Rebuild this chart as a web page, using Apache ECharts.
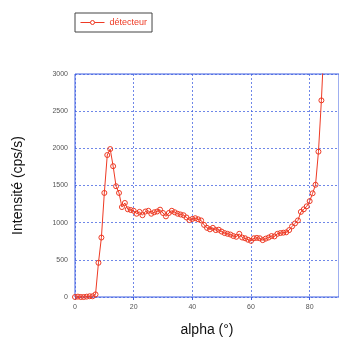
<!DOCTYPE html>
<html>
<head>
<meta charset="utf-8">
<script src="https://cdn.jsdelivr.net/npm/echarts@6/dist/echarts.min.js"></script>
<style>
html,body{margin:0;padding:0;background:#fff;}
#c{width:339px;height:342px;}
</style>
</head>
<body>
<div id="c"></div>
<script>
var seriesName = 'détecteur';
var alpha = [0,1,2,3,4,5,6,7,8,9,10,11,12,13,14,15,16,17,18,19,20,21,22,23,24,25,26,27,28,29,30,31,32,33,34,35,36,37,38,39,40,41,42,43,44,45,46,47,48,49,50,51,52,53,54,55,56,57,58,59,60,61,62,63,64,65,66,67,68,69,70,71,72,73,74,75,76,77,78,79,80,81,82,83,84,85];
var intensite = [0,5,0,0,5,10,10,35,460,800,1400,1910,1990,1760,1490,1400,1210,1265,1180,1170,1160,1120,1145,1100,1150,1160,1120,1140,1150,1175,1130,1085,1130,1160,1140,1120,1110,1100,1070,1035,1050,1060,1045,1030,970,930,910,930,900,905,880,860,850,840,820,810,850,800,790,770,755,790,795,790,765,785,800,820,815,850,860,865,870,900,950,990,1030,1145,1180,1220,1290,1395,1510,1955,2645,3500];
var xTicks = [0,20,40,60,80];
var yTicks = [0,500,1000,1500,2000,2500,3000];

var chart = echarts.init(document.getElementById('c'), null, {renderer:'canvas'});
var blue = '#3f5fe0';
var red = '#ee3a24';
chart.setOption({
  animation:false,
  backgroundColor:'#fff',
  legend:{
    left:75, top:13,
    padding:[5,5,5,5],
    itemWidth:24, itemHeight:5, itemGap:5,
    borderColor:'#444', borderWidth:1,
    textStyle:{color:red, fontSize:9, fontFamily:'Liberation Sans, Arial, sans-serif'},
    data:[{name:seriesName,
      itemStyle:{color:'#fff', borderColor:red, borderWidth:1},
      lineStyle:{color:red, width:1}}]
  },
  grid:{left:75, right:-1, top:74, bottom:40, show:true, borderColor:blue, borderWidth:1, containLabel:false},
  xAxis:{
    type:'value', min:0, max:90, interval:20,
    name:'alpha (°)', nameLocation:'middle', nameGap:26,
    nameTextStyle:{fontSize:14, color:'#111', fontFamily:'Liberation Sans, Arial, sans-serif'},
    axisLine:{show:false},
    axisTick:{show:true, length:3, lineStyle:{color:blue}},
    axisLabel:{fontSize:7, color:'#555', margin:7, showMaxLabel:false,
      formatter:function(v){return xTicks.indexOf(v)>=0 ? String(v) : '';}},
    splitLine:{show:true, lineStyle:{color:blue, type:[2,2], width:1, opacity:0.75}}
  },
  yAxis:{
    type:'value', min:0, max:3000, interval:500,
    name:'Intensité (cps/s)', nameLocation:'middle', nameGap:50,
    nameTextStyle:{fontSize:14, color:'#111', fontFamily:'Liberation Sans, Arial, sans-serif'},
    axisLine:{show:false},
    axisTick:{show:false},
    axisLabel:{fontSize:7, color:'#555', margin:7,
      formatter:function(v){return yTicks.indexOf(v)>=0 ? String(v) : '';}},
    splitLine:{show:true, lineStyle:{color:blue, type:[2,2], width:1, opacity:0.75}}
  },
  series:[{
    name:seriesName,
    type:'line',
    data:alpha.map(function(a,i){return [a,intensite[i]];}),
    clip:true,
    symbol:'circle', symbolSize:5,
    lineStyle:{color:red, width:1},
    itemStyle:{color:'rgba(255,255,255,0)', borderColor:red, borderWidth:1},
    emphasis:{disabled:true}
  }]
});
</script>
</body>
</html>
